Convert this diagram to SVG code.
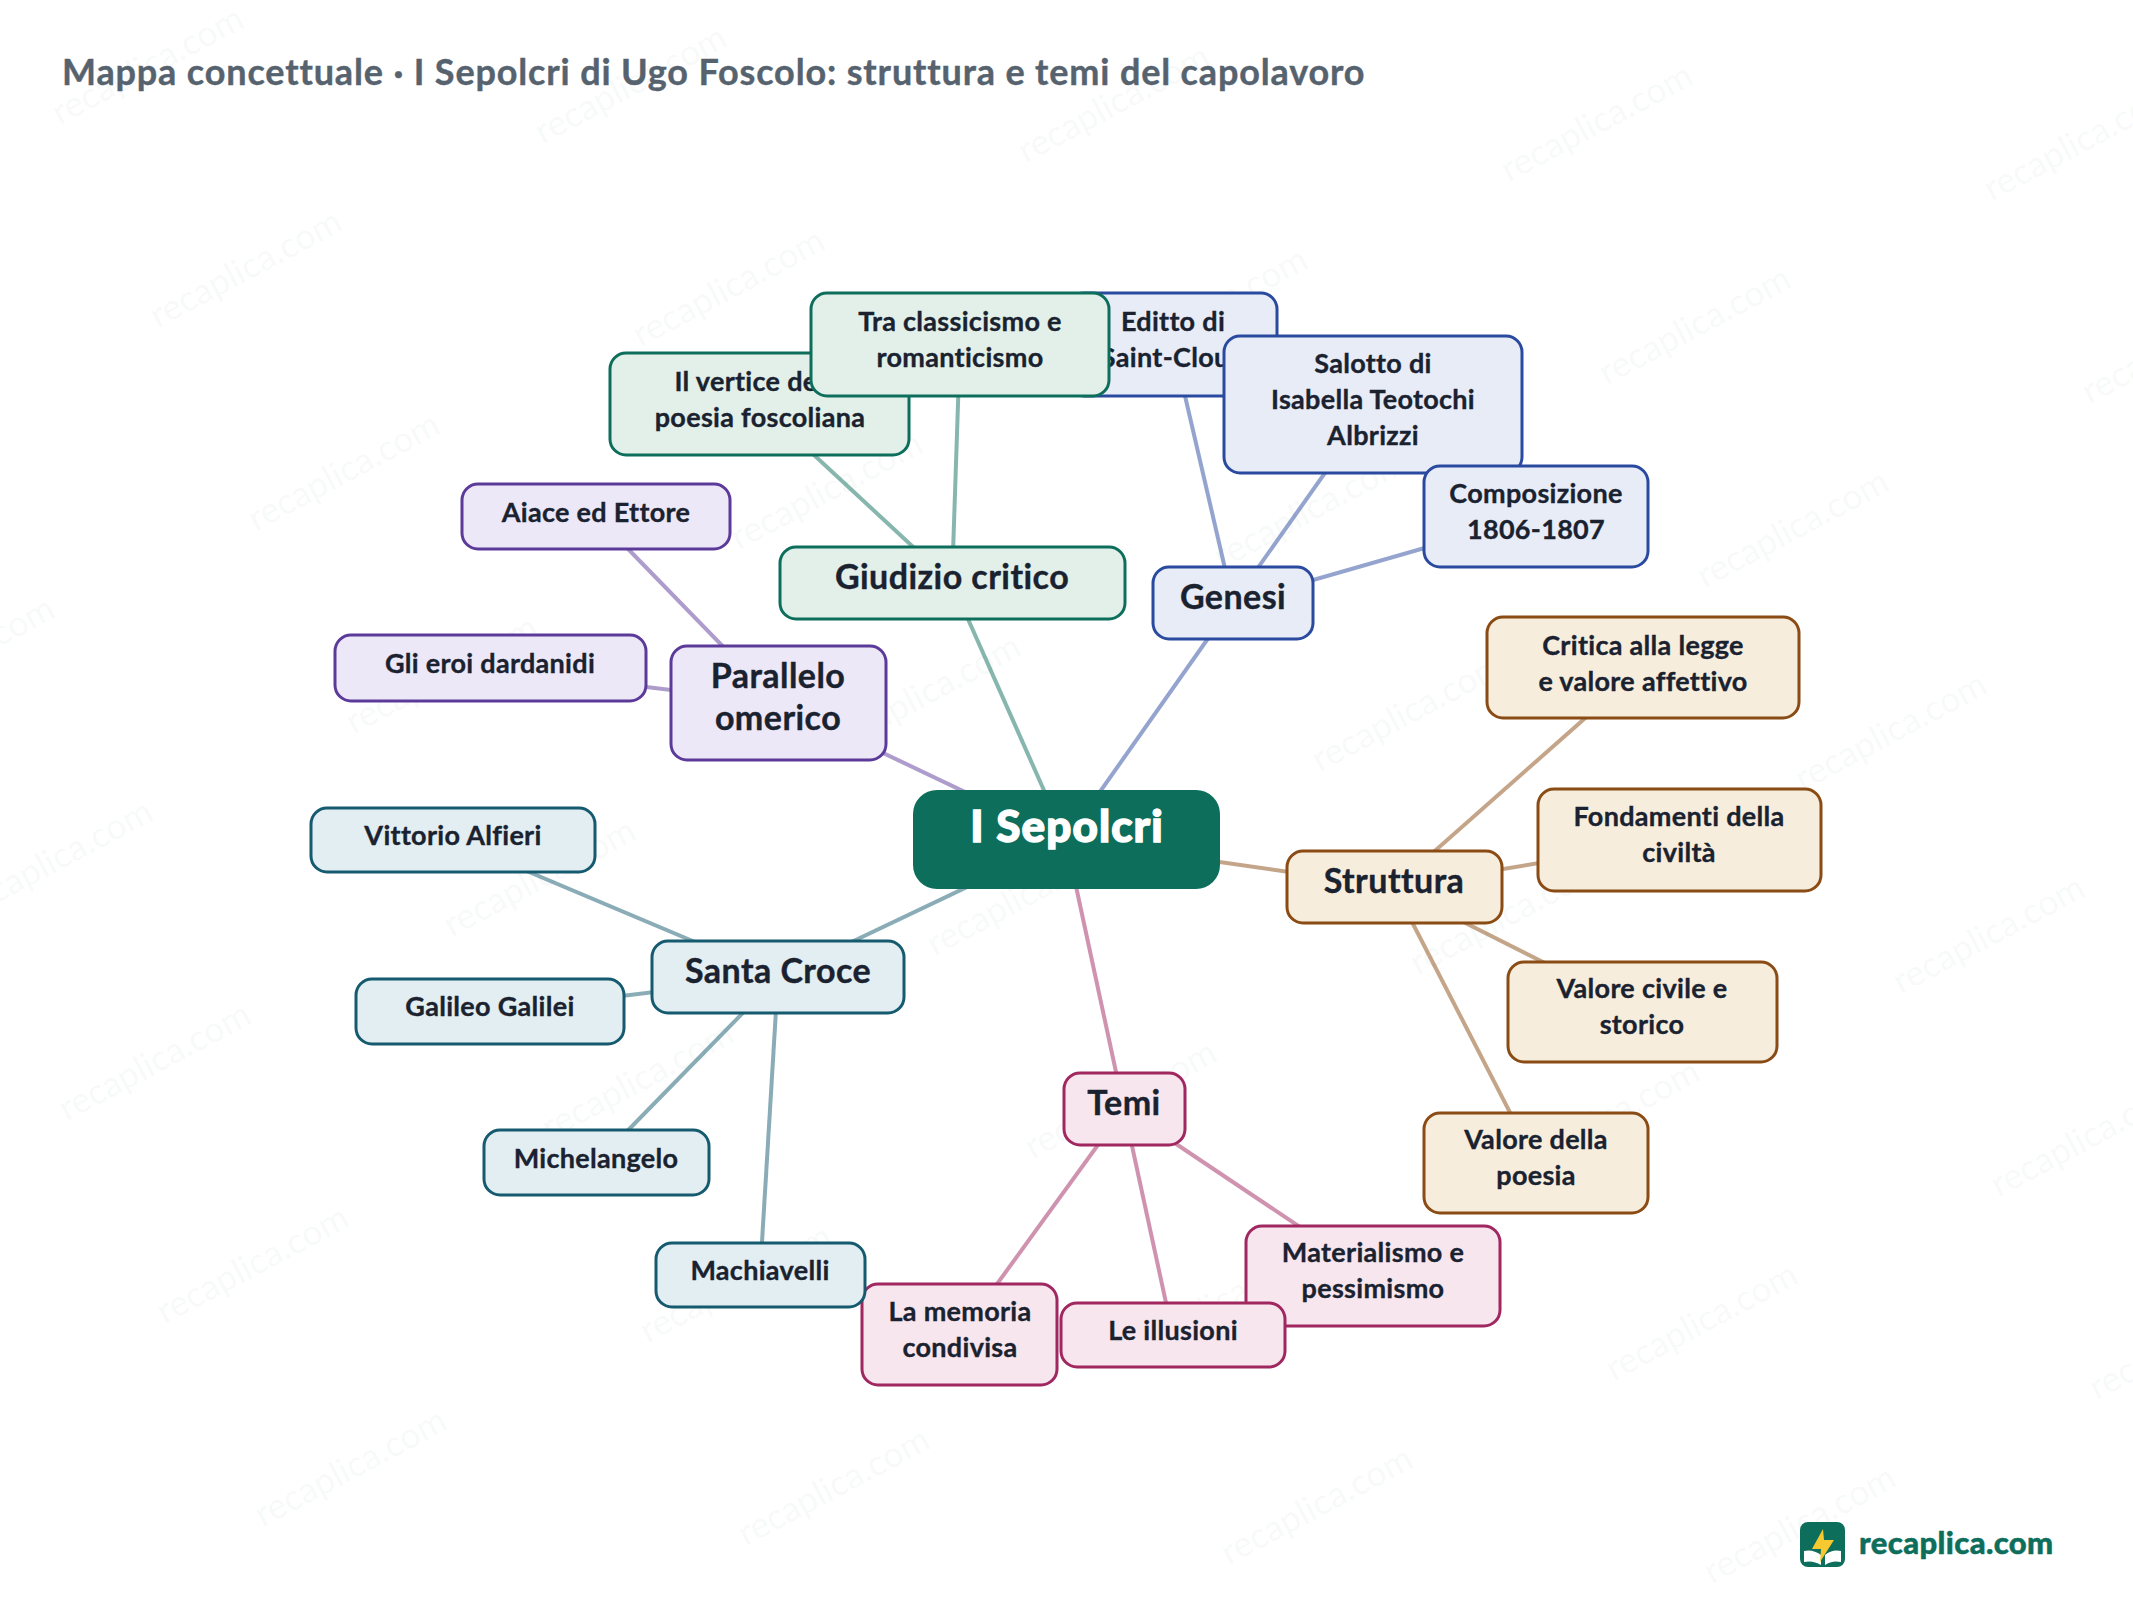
<svg xmlns="http://www.w3.org/2000/svg" width="2133" height="1600" viewBox="0 0 2133 1600">
<style>
text{font-family:"Lato","Open Sans","Liberation Sans",sans-serif;font-weight:700;fill:#1a2230;text-anchor:middle}
.wm{font-size:35.5px;font-weight:400;fill:#0d6e5c;fill-opacity:.05}
.leaf{font-size:27px;letter-spacing:.3px;stroke:#1a2230;stroke-width:.35px}
.br{font-size:34px;letter-spacing:.45px;stroke:#1a2230;stroke-width:.4px}
.e{stroke-width:4;stroke-opacity:.5;fill:none}
rect{stroke-width:3}
.g rect{fill:#e2f0e9;stroke:#0d6e5c}.g2{stroke:#0d6e5c}
.b rect{fill:#e8ecf7;stroke:#2a4a9f}.b2{stroke:#2a4a9f}
.p rect{fill:#ede8f7;stroke:#5b3a9a}.p2{stroke:#5b3a9a}
.t rect{fill:#f7eddd;stroke:#8a4b14}.t2{stroke:#8a4b14}
.k rect{fill:#f7e6ee;stroke:#a0275f}.k2{stroke:#a0275f}
.c rect{fill:#e3eef2;stroke:#155a6e}.c2{stroke:#155a6e}
</style>
<rect width="2133" height="1600" fill="#ffffff" style="stroke:none"/>
<g id="watermarks" transform="translate(3 9)">
<text class="wm" x="150" y="67" transform="rotate(-28 150 67)">recaplica.com</text>
<text class="wm" x="633" y="86" transform="rotate(-28 633 86)">recaplica.com</text>
<text class="wm" x="1116" y="105" transform="rotate(-28 1116 105)">recaplica.com</text>
<text class="wm" x="1599" y="124" transform="rotate(-28 1599 124)">recaplica.com</text>
<text class="wm" x="2082" y="143" transform="rotate(-28 2082 143)">recaplica.com</text>
<text class="wm" x="248" y="270" transform="rotate(-28 248 270)">recaplica.com</text>
<text class="wm" x="731" y="289" transform="rotate(-28 731 289)">recaplica.com</text>
<text class="wm" x="1214" y="308" transform="rotate(-28 1214 308)">recaplica.com</text>
<text class="wm" x="1697" y="327" transform="rotate(-28 1697 327)">recaplica.com</text>
<text class="wm" x="2180" y="346" transform="rotate(-28 2180 346)">recaplica.com</text>
<text class="wm" x="346" y="473" transform="rotate(-28 346 473)">recaplica.com</text>
<text class="wm" x="829" y="492" transform="rotate(-28 829 492)">recaplica.com</text>
<text class="wm" x="1312" y="511" transform="rotate(-28 1312 511)">recaplica.com</text>
<text class="wm" x="1795" y="530" transform="rotate(-28 1795 530)">recaplica.com</text>
<text class="wm" x="-39" y="657" transform="rotate(-28 -39 657)">recaplica.com</text>
<text class="wm" x="444" y="676" transform="rotate(-28 444 676)">recaplica.com</text>
<text class="wm" x="927" y="695" transform="rotate(-28 927 695)">recaplica.com</text>
<text class="wm" x="1410" y="714" transform="rotate(-28 1410 714)">recaplica.com</text>
<text class="wm" x="1893" y="733" transform="rotate(-28 1893 733)">recaplica.com</text>
<text class="wm" x="59" y="860" transform="rotate(-28 59 860)">recaplica.com</text>
<text class="wm" x="542" y="879" transform="rotate(-28 542 879)">recaplica.com</text>
<text class="wm" x="1025" y="898" transform="rotate(-28 1025 898)">recaplica.com</text>
<text class="wm" x="1508" y="917" transform="rotate(-28 1508 917)">recaplica.com</text>
<text class="wm" x="1991" y="936" transform="rotate(-28 1991 936)">recaplica.com</text>
<text class="wm" x="157" y="1063" transform="rotate(-28 157 1063)">recaplica.com</text>
<text class="wm" x="640" y="1082" transform="rotate(-28 640 1082)">recaplica.com</text>
<text class="wm" x="1123" y="1101" transform="rotate(-28 1123 1101)">recaplica.com</text>
<text class="wm" x="1606" y="1120" transform="rotate(-28 1606 1120)">recaplica.com</text>
<text class="wm" x="2089" y="1139" transform="rotate(-28 2089 1139)">recaplica.com</text>
<text class="wm" x="255" y="1266" transform="rotate(-28 255 1266)">recaplica.com</text>
<text class="wm" x="738" y="1285" transform="rotate(-28 738 1285)">recaplica.com</text>
<text class="wm" x="1221" y="1304" transform="rotate(-28 1221 1304)">recaplica.com</text>
<text class="wm" x="1704" y="1323" transform="rotate(-28 1704 1323)">recaplica.com</text>
<text class="wm" x="2187" y="1342" transform="rotate(-28 2187 1342)">recaplica.com</text>
<text class="wm" x="353" y="1469" transform="rotate(-28 353 1469)">recaplica.com</text>
<text class="wm" x="836" y="1488" transform="rotate(-28 836 1488)">recaplica.com</text>
<text class="wm" x="1319" y="1507" transform="rotate(-28 1319 1507)">recaplica.com</text>
<text class="wm" x="1802" y="1526" transform="rotate(-28 1802 1526)">recaplica.com</text>
</g>
<text id="title" x="62" y="85" style="text-anchor:start;font-size:36px;letter-spacing:.85px;fill:#56636f;stroke:#56636f;stroke-width:.4px">Mappa concettuale · I Sepolcri di Ugo Foscolo: struttura e temi del capolavoro</text>
<g id="connectors">
<line class="e g2" x1="1066" y1="840" x2="952" y2="583"/>
<line class="e b2" x1="1066" y1="840" x2="1233" y2="603"/>
<line class="e p2" x1="1066" y1="840" x2="778" y2="703"/>
<line class="e t2" x1="1066" y1="840" x2="1394" y2="887"/>
<line class="e k2" x1="1066" y1="840" x2="1124" y2="1109"/>
<line class="e c2" x1="1066" y1="840" x2="778" y2="977"/>
<line class="e g2" x1="952" y1="583" x2="759" y2="404"/>
<line class="e g2" x1="952" y1="583" x2="960" y2="344"/>
<line class="e b2" x1="1233" y1="603" x2="1173" y2="344"/>
<line class="e b2" x1="1233" y1="603" x2="1373" y2="405"/>
<line class="e b2" x1="1233" y1="603" x2="1536" y2="516"/>
<line class="e p2" x1="778" y1="703" x2="596" y2="516"/>
<line class="e p2" x1="778" y1="703" x2="490" y2="668"/>
<line class="e t2" x1="1394" y1="887" x2="1643" y2="667"/>
<line class="e t2" x1="1394" y1="887" x2="1679" y2="840"/>
<line class="e t2" x1="1394" y1="887" x2="1642" y2="1012"/>
<line class="e t2" x1="1394" y1="887" x2="1536" y2="1163"/>
<line class="e k2" x1="1124" y1="1109" x2="1373" y2="1276"/>
<line class="e k2" x1="1124" y1="1109" x2="1173" y2="1335"/>
<line class="e k2" x1="1124" y1="1109" x2="960" y2="1335"/>
<line class="e c2" x1="778" y1="977" x2="453" y2="840"/>
<line class="e c2" x1="778" y1="977" x2="490" y2="1012"/>
<line class="e c2" x1="778" y1="977" x2="596" y2="1163"/>
<line class="e c2" x1="778" y1="977" x2="760" y2="1275"/>
</g>
<g id="n-vertice" class="g"><rect x="610" y="353" width="299" height="102" rx="16"/><text class="leaf" x="760" y="391">Il vertice della</text><text class="leaf" x="760" y="427">poesia foscoliana</text></g>
<g id="n-editto" class="b"><rect x="1068" y="293" width="209" height="103" rx="16"/><text class="leaf" x="1173" y="331">Editto di</text><text class="leaf" x="1173" y="367">Saint-Cloud</text></g>
<g id="n-tra" class="g"><rect x="811" y="293" width="298" height="103" rx="16"/><text class="leaf" x="960" y="331">Tra classicismo e</text><text class="leaf" x="960" y="367">romanticismo</text></g>
<g id="n-salotto" class="b"><rect x="1224" y="336" width="298" height="137" rx="16"/><text class="leaf" x="1373" y="373">Salotto di</text><text class="leaf" x="1373" y="409">Isabella Teotochi</text><text class="leaf" x="1373" y="445">Albrizzi</text></g>
<g id="n-composizione" class="b"><rect x="1424" y="466" width="224" height="101" rx="16"/><text class="leaf" x="1536" y="503">Composizione</text><text class="leaf" x="1536" y="539">1806-1807</text></g>
<g id="n-giudizio" class="g"><rect x="780" y="547" width="345" height="72" rx="16"/><text class="br" x="952" y="589">Giudizio critico</text></g>
<g id="n-genesi" class="b"><rect x="1153" y="567" width="160" height="72" rx="16"/><text class="br" x="1233" y="609">Genesi</text></g>
<g id="n-aiace" class="p"><rect x="462" y="484" width="268" height="65" rx="16"/><text class="leaf" x="596" y="522">Aiace ed Ettore</text></g>
<g id="n-eroi" class="p"><rect x="335" y="635" width="311" height="66" rx="16"/><text class="leaf" x="490" y="673">Gli eroi dardanidi</text></g>
<g id="n-parallelo" class="p"><rect x="671" y="646" width="215" height="114" rx="16"/><text class="br" x="778" y="688">Parallelo</text><text class="br" x="778" y="730">omerico</text></g>
<g id="n-critica" class="t"><rect x="1487" y="617" width="312" height="101" rx="16"/><text class="leaf" x="1643" y="655">Critica alla legge</text><text class="leaf" x="1643" y="691">e valore affettivo</text></g>
<g id="n-fondamenti" class="t"><rect x="1538" y="789" width="283" height="102" rx="16"/><text class="leaf" x="1679" y="826">Fondamenti della</text><text class="leaf" x="1679" y="862">civiltà</text></g>
<g id="n-civile" class="t"><rect x="1508" y="962" width="269" height="100" rx="16"/><text class="leaf" x="1642" y="998">Valore civile e</text><text class="leaf" x="1642" y="1034">storico</text></g>
<g id="n-poesia" class="t"><rect x="1424" y="1113" width="224" height="100" rx="16"/><text class="leaf" x="1536" y="1149">Valore della</text><text class="leaf" x="1536" y="1185">poesia</text></g>
<g id="n-struttura" class="t"><rect x="1287" y="851" width="215" height="72" rx="16"/><text class="br" x="1394" y="893">Struttura</text></g>
<g id="n-materialismo" class="k"><rect x="1246" y="1226" width="254" height="100" rx="16"/><text class="leaf" x="1373" y="1262">Materialismo e</text><text class="leaf" x="1373" y="1298">pessimismo</text></g>
<g id="n-illusioni" class="k"><rect x="1061" y="1303" width="224" height="64" rx="16"/><text class="leaf" x="1173" y="1340">Le illusioni</text></g>
<g id="n-memoria" class="k"><rect x="862" y="1284" width="195" height="101" rx="16"/><text class="leaf" x="960" y="1321">La memoria</text><text class="leaf" x="960" y="1357">condivisa</text></g>
<g id="n-temi" class="k"><rect x="1064" y="1073" width="121" height="72" rx="16"/><text class="br" x="1124" y="1115">Temi</text></g>
<g id="n-vittorio" class="c"><rect x="311" y="808" width="284" height="64" rx="16"/><text class="leaf" x="453" y="845">Vittorio Alfieri</text></g>
<g id="n-galileo" class="c"><rect x="356" y="979" width="268" height="65" rx="16"/><text class="leaf" x="490" y="1016">Galileo Galilei</text></g>
<g id="n-michelangelo" class="c"><rect x="484" y="1130" width="225" height="65" rx="16"/><text class="leaf" x="596" y="1168">Michelangelo</text></g>
<g id="n-machiavelli" class="c"><rect x="656" y="1243" width="209" height="64" rx="16"/><text class="leaf" x="760" y="1280">Machiavelli</text></g>
<g id="n-santacroce" class="c"><rect x="652" y="941" width="252" height="72" rx="16"/><text class="br" x="778" y="983">Santa Croce</text></g>
<g id="n-root"><rect x="913" y="790" width="307" height="99" rx="24" fill="#0d6e5c" style="stroke:none"/><text x="1067" y="842" style="font-size:44px;letter-spacing:1.1px;font-weight:900;fill:#ffffff;stroke:#ffffff;stroke-width:1.4px">I Sepolcri</text></g>
<g id="logo">
<rect x="1800" y="1522" width="45" height="45" rx="8" fill="#0d6e5c" style="stroke:none"/>
<path d="M1804 1551Q1813 1549 1821 1555V1565Q1813 1560 1804 1562Z M1841 1551Q1832 1549 1825 1555V1565Q1832 1560 1841 1562Z" fill="#ffffff"/>
<path d="M1823 1529L1812 1549H1821L1820 1562L1834 1540H1824Z" fill="#f5c92f"/>
<text x="1859" y="1554" style="text-anchor:start;font-size:31px;letter-spacing:.4px;font-weight:900;fill:#0d6e5c;stroke:#0d6e5c;stroke-width:.5px">recaplica.com</text>
</g>
</svg>
